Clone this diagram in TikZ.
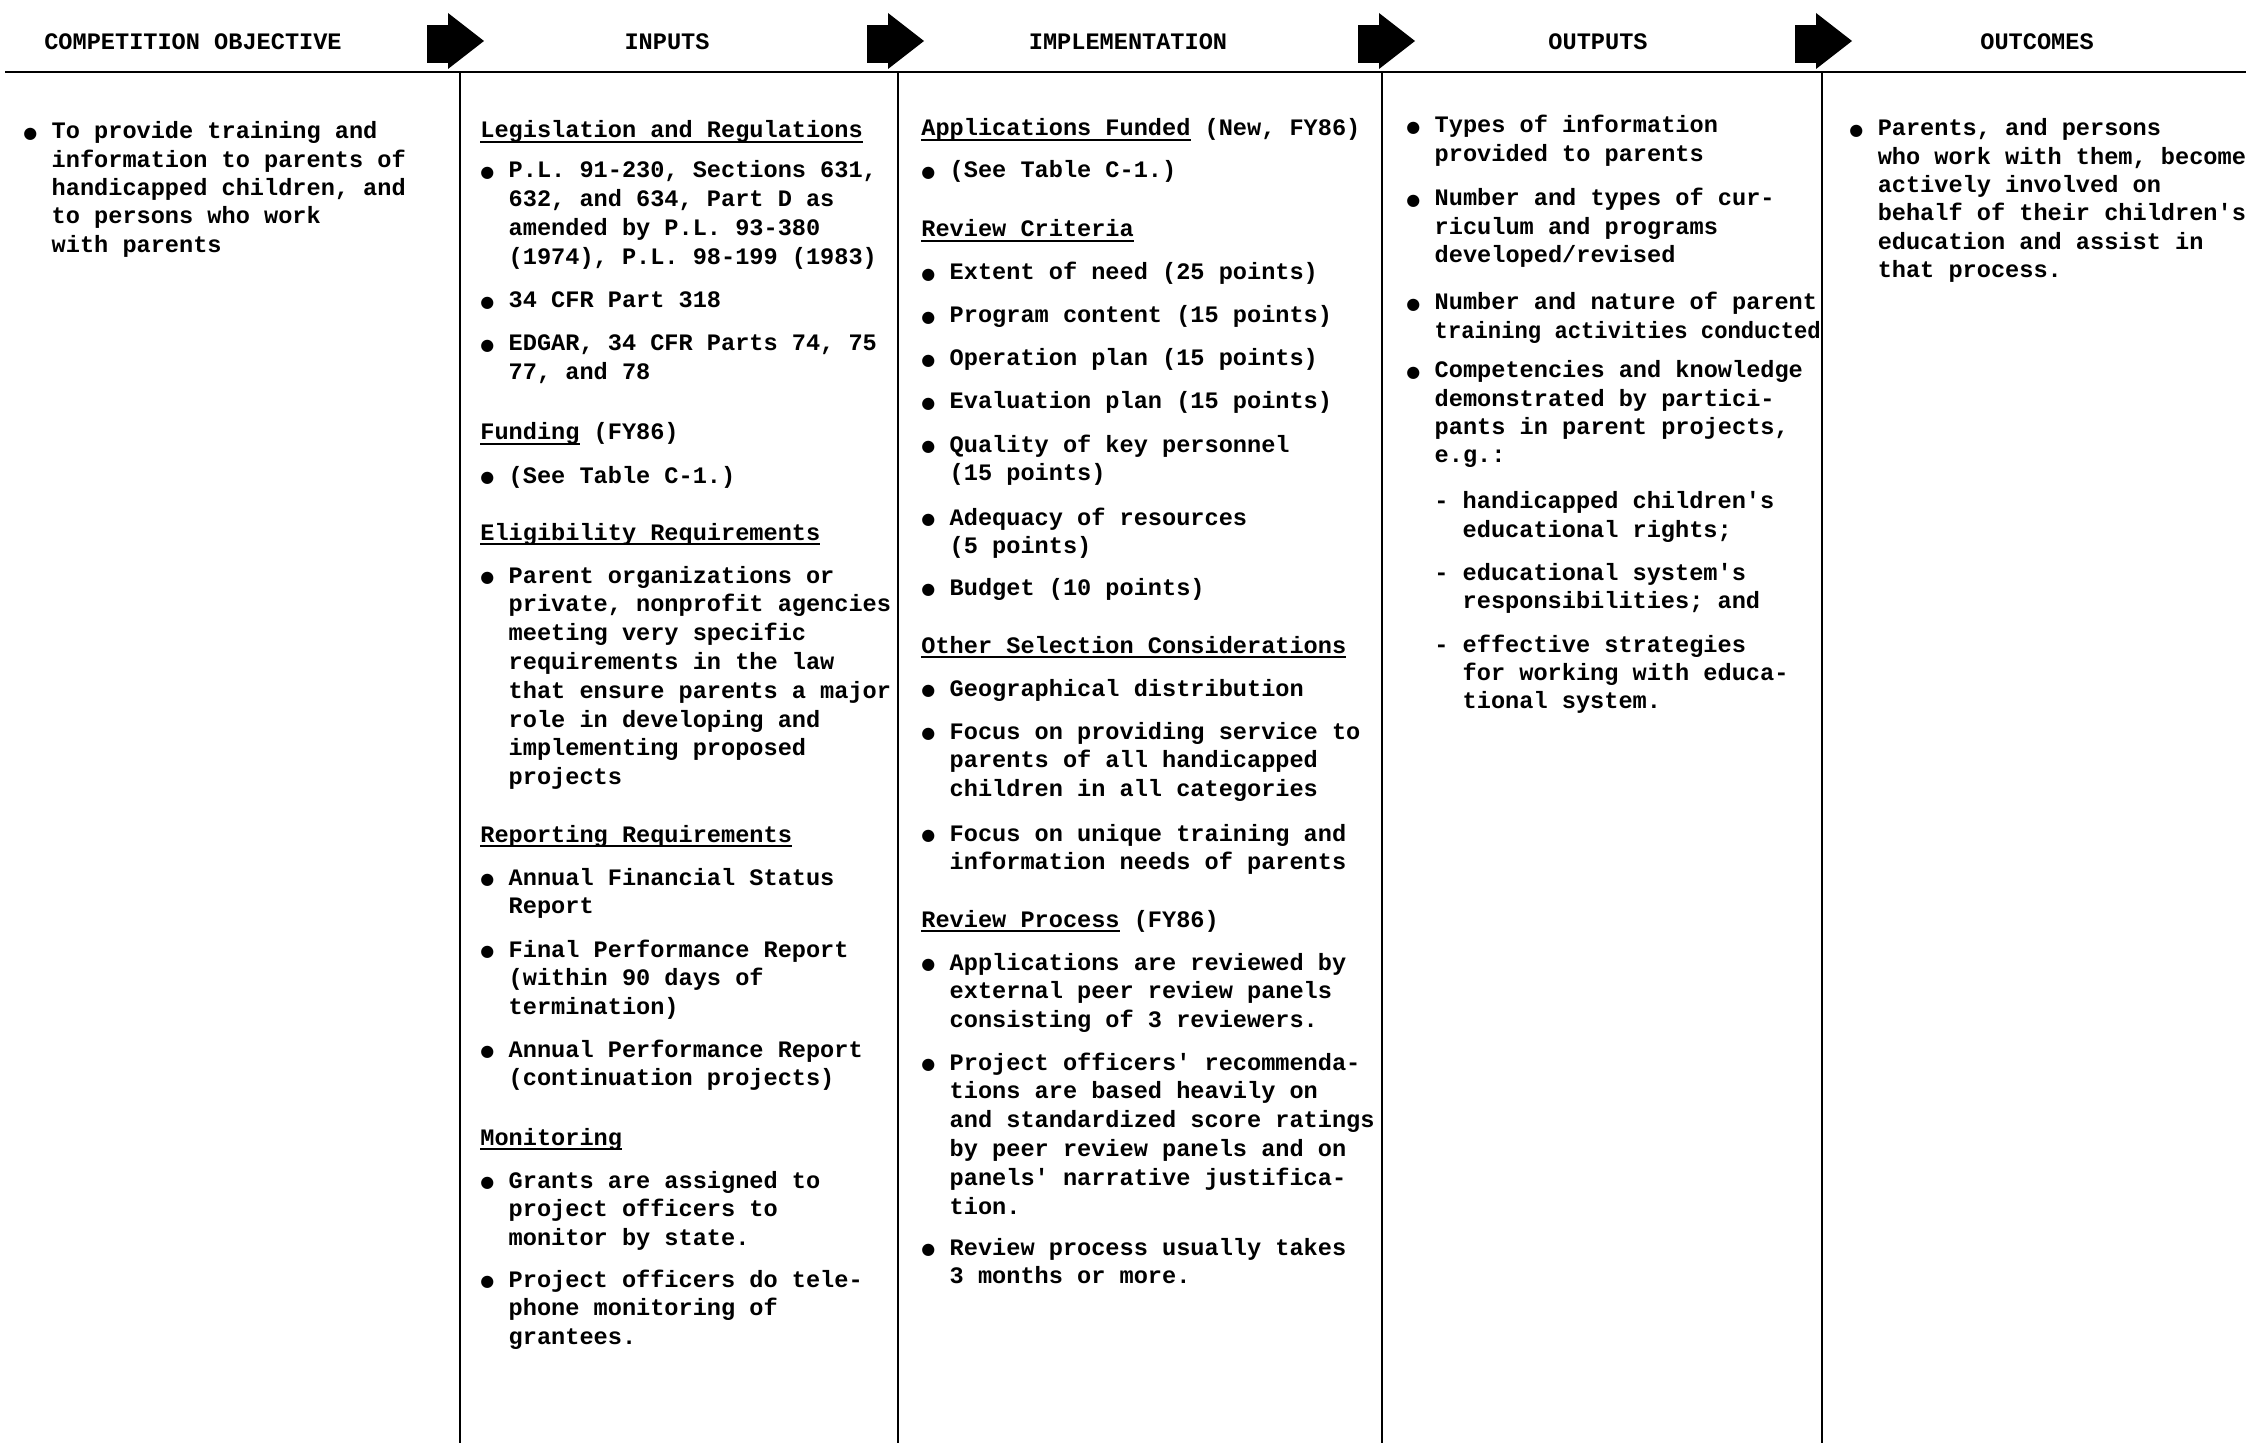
\documentclass[tikz,border=0pt]{standalone}
\usepackage{fontspec}
\newfontfamily\mono{Liberation Mono}
\newfontfamily\djv{DejaVu Sans}
\frenchspacing
\newcommand\bulsym{\raisebox{0.4pt}{\djv\fontsize{8}{0}\selectfont ●}}
\newcommand\ul[1]{\setbox0\hbox{#1}\rlap{\rule[-2.4pt]{\wd0}{0.9pt}}\box0\relax}
\newcommand\itm[1]{\vtop{\hsize=300pt\parindent=0pt\parskip=0pt\rightskip=0pt plus 1fil\hangindent=1.2em\hangafter=1\noindent\makebox[1.2em][l]{\bulsym}#1\par}}
\newcommand\dsh[1]{\vtop{\hsize=300pt\parindent=0pt\parskip=0pt\rightskip=0pt plus 1fil\hangindent=1.2em\hangafter=1\noindent\makebox[1.2em][l]{-}#1\par}}
\newcommand\blk[1]{\vtop{\hsize=300pt\parindent=0pt\parskip=0pt\rightskip=0pt plus 1fil\noindent #1\par}}
\tikzset{
  txt/.style={anchor=base west, inner sep=0pt, font=\mono\bfseries\fontsize{11.8}{14.4}\selectfont\frenchspacing},
  txtb/.style={anchor=base west, inner sep=0pt, font=\mono\bfseries\fontsize{11.8}{14.15}\selectfont\frenchspacing},
  hdr/.style={anchor=base, inner sep=0pt, font=\mono\bfseries\fontsize{11.8}{14}\selectfont},
  hrule/.style={line width=1.3pt},
  vrule/.style={line width=1.1pt},
  blockarrow/.pic={
    \fill[black] (-33,-47) rectangle (-10,-9);
    \fill[black] (-12,-59) -- (24,-31) -- (-12,-3) -- cycle;
  }
}
\begin{document}
\begin{tikzpicture}[x=0.5pt,y=-0.5pt]
\useasboundingbox (0,0) rectangle (2246,1443);
\fill[white] (0,0) rectangle (2246,1443);

% header rule and column rules
\coordinate (hl) at (5,72);
\coordinate (hr) at (2246,72);
\draw[hrule] (hl) -- (hr);
\foreach \n/\x in {1/460,2/898,3/1382,4/1822}{
  \coordinate (v\n t) at (\x,72);
  \coordinate (v\n b) at (\x,1443);
  \draw[vrule] (v\n t) -- (v\n b);
}
% arrows
\pic at (460,72) {blockarrow};
\pic at (900,72) {blockarrow};
\pic at (1391,72) {blockarrow};
\pic at (1828,72) {blockarrow};

% headers
\node[hdr] (h1) at (193,50) {COMPETITION OBJECTIVE};
\node[hdr] (h2) at (667,50) {INPUTS};
\node[hdr] (h3) at (1128,50) {IMPLEMENTATION};
\node[hdr] (h4) at (1598,50) {OUTPUTS};
\node[hdr] (h5) at (2037,50) {OUTCOMES};

% objective
\node[txtb] (obj) at (23,139) {\itm{To provide training and\\information to parents of\\handicapped children, and\\to persons who work\\with parents}};

% inputs
\node[txt] (in1) at (480,138) {\blk{\ul{Legislation and Regulations}}};
\node[txt] (in2) at (480,178) {\itm{P.L. 91-230, Sections 631,\\632, and 634, Part D as\\amended by P.L. 93-380\\(1974), P.L. 98-199 (1983)}};
\node[txt] (in3) at (480,308) {\itm{34 CFR Part 318}};
\node[txt] (in4) at (480,351) {\itm{EDGAR, 34 CFR Parts 74, 75\\77, and 78}};
\node[txt] (in5) at (480,440) {\blk{\ul{Funding} (FY86)}};
\node[txt] (in6) at (480,483) {\itm{(See Table C-1.)}};
\node[txt] (in7) at (480,540) {\blk{\ul{Eligibility Requirements}}};
\node[txt] (in8) at (480,583) {\itm{Parent organizations or\\private, nonprofit agencies\\meeting very specific\\requirements in the law\\that ensure parents a major\\role in developing and\\implementing proposed\\projects}};
\node[txt] (in9) at (480,842) {\blk{\ul{Reporting Requirements}}};
\node[txt] (in10) at (480,885) {\itm{Annual Financial Status\\Report}};
\node[txt] (in11) at (480,957) {\itm{Final Performance Report\\(within 90 days of\\termination)}};
\node[txt] (in12) at (480,1057) {\itm{Annual Performance Report\\(continuation projects)}};
\node[txt] (in13) at (480,1145) {\blk{\ul{Monitoring}}};
\node[txt] (in14) at (480,1188) {\itm{Grants are assigned to\\project officers to\\monitor by state.}};
\node[txt] (in15) at (480,1287) {\itm{Project officers do tele-\\phone monitoring of\\grantees.}};

% implementation
\node[txt] (im1) at (921,136) {\blk{\ul{Applications Funded} (New, FY86)}};
\node[txt] (im2) at (921,178) {\itm{(See Table C-1.)}};
\node[txt] (im3) at (921,237) {\blk{\ul{Review Criteria}}};
\node[txt] (im4) at (921,280) {\itm{Extent of need (25 points)}};
\node[txt] (im5) at (921,323) {\itm{Program content (15 points)}};
\node[txt] (im6) at (921,366) {\itm{Operation plan (15 points)}};
\node[txt] (im7) at (921,409) {\itm{Evaluation plan (15 points)}};
\node[txt] (im8) at (921,452) {\itm{Quality of key personnel\\(15 points)}};
\node[txt] (im9) at (921,525) {\itm{Adequacy of resources\\(5 points)}};
\node[txt] (im10) at (921,595) {\itm{Budget (10 points)}};
\node[txt] (im11) at (921,653) {\blk{\ul{Other Selection Considerations}}};
\node[txt] (im12) at (921,696) {\itm{Geographical distribution}};
\node[txt] (im13) at (921,739) {\itm{Focus on providing service to\\parents of all handicapped\\children in all categories}};
\node[txt] (im14) at (921,841) {\itm{Focus on unique training and\\information needs of parents}};
\node[txt] (im15) at (921,927) {\blk{\ul{Review Process} (FY86)}};
\node[txt] (im16) at (921,970) {\itm{Applications are reviewed by\\external peer review panels\\consisting of 3 reviewers.}};
\node[txt] (im17) at (921,1070) {\itm{Project officers' recommenda-\\tions are based heavily on\\and standardized score ratings\\by peer review panels and on\\panels' narrative justifica-\\tion.}};
\node[txt] (im18) at (921,1255) {\itm{Review process usually takes\\3 months or more.}};

% outputs
\node[txtb] (out1) at (1406,133) {\itm{Types of information\\provided to parents}};
\node[txtb] (out2) at (1406,206) {\itm{Number and types of cur-\\riculum and programs\\developed/revised}};
\node[txtb] (out3) at (1406,310) {\itm{Number and nature of parent\\\scalebox{0.94}[1]{training activities conducted}}};
\node[txtb] (out4) at (1406,378) {\itm{Competencies and knowledge\\demonstrated by partici-\\pants in parent projects,\\e.g.:}};
\node[txtb] (out5) at (1434,509) {\dsh{handicapped children's\\educational rights;}};
\node[txtb] (out6) at (1434,580) {\dsh{educational system's\\responsibilities; and}};
\node[txtb] (out7) at (1434,652) {\dsh{effective strategies\\for working with educa-\\tional system.}};

% outcomes
\node[txtb] (oc1) at (1849,136) {\itm{Parents, and persons\\who work with them, become\\actively involved on\\behalf of their children's\\education and assist in\\that process.}};
\end{tikzpicture}
\end{document}
